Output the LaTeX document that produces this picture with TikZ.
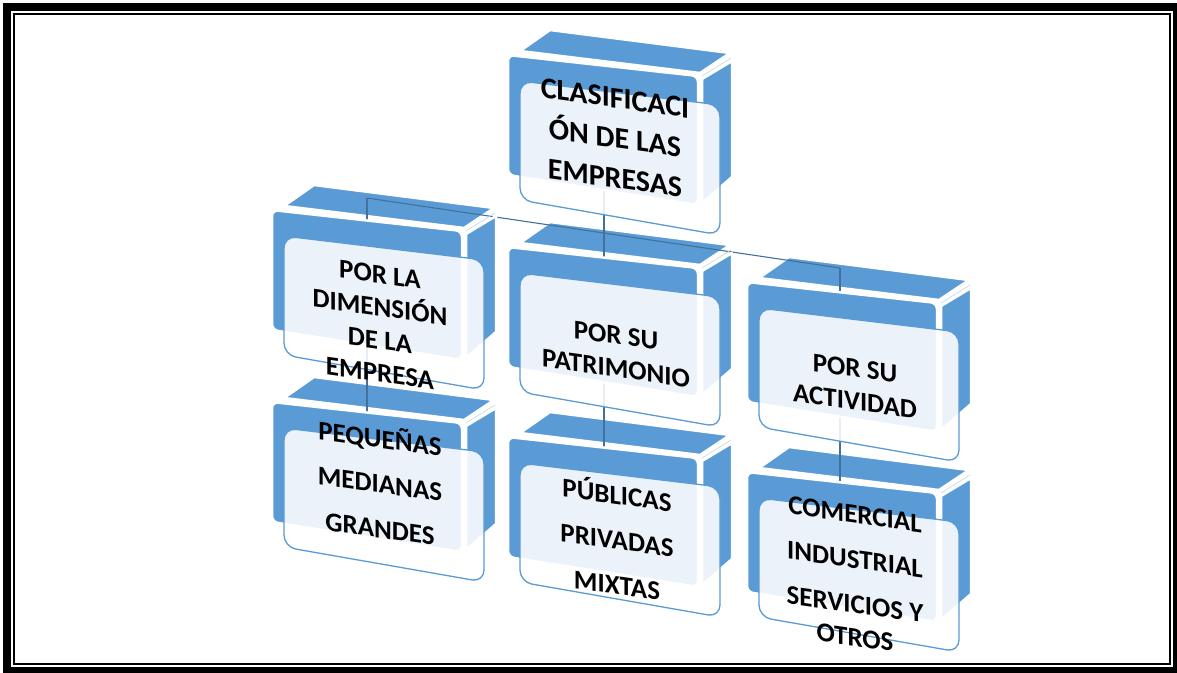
\documentclass[tikz,border=0pt]{standalone}
\usepackage{fontspec}
\setmainfont{Carlito}
\definecolor{sblue}{HTML}{5B9BD5}
\definecolor{lineblue}{HTML}{41719C}
\definecolor{hiblue}{HTML}{BDD7EE}
\tikzset{
  bluepart/.style={fill=sblue, draw=white, line width=2.5pt, line join=round},
  panelpart/.style={bluepart, rounded corners=6pt},
  cardpart/.style={draw=sblue, line width=1.3pt, fill=white, fill opacity=0.88, draw opacity=1, rounded corners=12pt},
  conn/.style={draw=lineblue, line width=1.1pt},
  lbl/.style={font=\bfseries\fontsize{27}{33}\selectfont, align=center, yslant=-0.14, text=black, inner sep=0pt},
  biglbl/.style={lbl, font=\bfseries\fontsize{30}{40}\selectfont},
}
\newcommand\boxlid[2]{%
  \begin{scope}[shift={(#1,#2)}]
    \path[bluepart] (12,-4) -- (42,-25) -- (222,-2) -- (192,18) -- cycle;
  \end{scope}}
\newcommand\boxbody[2]{%
  \begin{scope}[shift={(#1,#2)}]
    \path[bluepart] (194,24) -- (224,6) -- (224,122) -- (194,148) -- cycle;
    \draw[hiblue, line width=0.6pt] (194,21) -- (223,3);
    \path[panelpart] (0,0) -- (190,21) -- (190,150) -- (0,120) -- cycle;
  \end{scope}}
\newcommand\boxcard[2]{%
  \begin{scope}[shift={(#1,#2)}]
    \path[cardpart] (12,26) -- (212,50) -- (212,180) -- (12,145) -- cycle;
  \end{scope}}
\begin{document}
\begin{tikzpicture}[x=1pt, y=-1pt]
\useasboundingbox (0,0) rectangle (1177,672);
\fill[white] (0,0) rectangle (1177,672);
% frame
\draw[line width=8pt] (7,7) rectangle (1177,671);
\draw[line width=2pt] (13.7,13.7) rectangle (1170.3,664.3);
% lids
\boxlid{508}{55}
\boxlid{272}{210}
\boxlid{508}{247}
\boxlid{747}{282}
\boxlid{272}{402}
\boxlid{508}{437}
\boxlid{747}{472}
% connectors
\coordinate (top) at (604,190);
\coordinate (busL) at (367,198);
\coordinate (busM) at (604,233);
\coordinate (busR) at (840,268);
\coordinate (endL) at (367,414);
\coordinate (endM) at (604,449);
\coordinate (endR) at (840,484);
\draw[conn] (busL) -- (busR);
\draw[conn] (busL) -- (endL);
\draw[conn] (top) -- (endM);
\draw[conn] (busR) -- (endR);
% bodies
\boxbody{508}{55}
\boxbody{272}{210}
\boxbody{508}{247}
\boxbody{747}{282}
\boxbody{272}{402}
\boxbody{508}{437}
\boxbody{747}{472}
% cards
\boxcard{508}{55}
\boxcard{272}{210}
\boxcard{508}{247}
\boxcard{747}{282}
\boxcard{272}{402}
\boxcard{508}{437}
\boxcard{747}{472}
% labels
\node[biglbl] (clas) at (615,138) {CLASIFICACI\\ÓN DE LAS\\EMPRESAS};
\node[lbl] (dim) at (380,324) {POR LA\\DIMENSIÓN\\DE LA\\EMPRESA};
\node[lbl] (pat) at (616,352) {POR SU\\PATRIMONIO};
\node[lbl] (act) at (855,385) {POR SU\\ACTIVIDAD};
\node[lbl] (peq) at (380,482) {PEQUEÑAS\\[12pt]MEDIANAS\\[12pt]GRANDES};
\node[lbl] (pub) at (617,538) {PÚBLICAS\\[12pt]PRIVADAS\\[12pt]MIXTAS};
\node[lbl] (com) at (855,576) {COMERCIAL\\[12pt]INDUSTRIAL\\[12pt]SERVICIOS Y\\OTROS};
\end{tikzpicture}
\end{document}
